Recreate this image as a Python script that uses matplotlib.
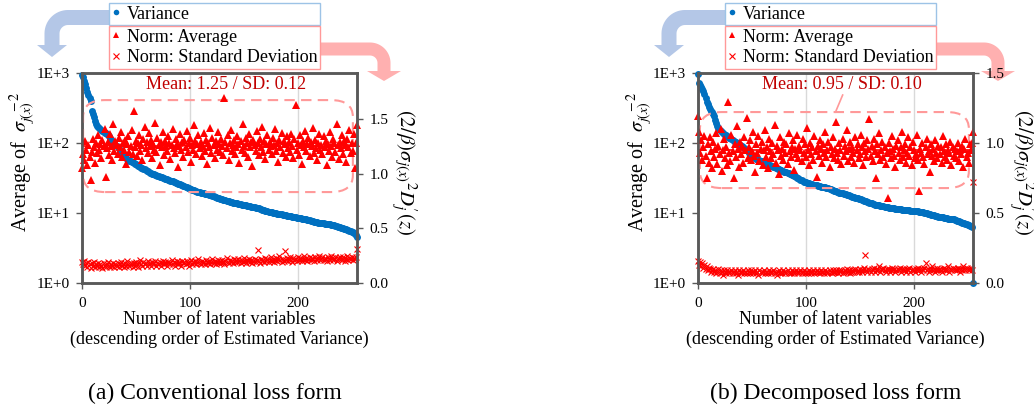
import matplotlib.pyplot as plt
from matplotlib.patches import FancyBboxPatch, Polygon
from matplotlib.lines import Line2D
from matplotlib.ticker import NullLocator, FormatStrFormatter
import numpy as np

plt.rcParams['font.family'] = ['Liberation Serif', 'DejaVu Serif']
plt.rcParams['mathtext.fontset'] = 'stix'

W, H = 1034, 415

# (a) conventional loss form: estimated variance (left, log axis) per latent variable
var_a = [950, 880, 780, 690, 610, 540, 480, 440, 400, 285, 260, 235, 205, 185, 176, 170,
         165, 160, 155, 150, 145, 141, 137, 133, 130, 124, 118, 112, 107, 102, 98, 94,
         90, 87, 84, 78, 74, 70, 67, 65, 63, 61, 59, 57, 56, 55, 54, 52.9,
         51.8, 50.7, 49.6, 48.6, 47.6, 46.6, 45.6, 44.6, 43.7, 42.8, 41.9, 41.0, 40.1, 39.3, 38.5, 37.7,
         37.0, 36.5, 36.0, 35.5, 35.0, 34.6, 34.1, 33.6, 33.2, 32.7, 32.3, 31.9, 31.4, 31.0, 30.6, 30.2,
         29.8, 29.4, 29.0, 28.6, 28.2, 27.8, 27.4, 27.1, 26.7, 26.3, 26.0, 25.6, 25.2, 24.8, 24.4, 24.0,
         23.6, 23.2, 22.8, 22.4, 22.0, 21.8, 21.5, 21.2, 21.0, 20.7, 20.5, 20.2, 20.0, 19.7, 19.5, 19.3,
         19.2, 19.0, 18.9, 18.7, 18.6, 18.4, 18.2, 18.0, 17.8, 17.5, 17.3, 17.0, 16.8, 16.6, 16.4, 16.2,
         16.0, 15.8, 15.6, 15.5, 15.3, 15.1, 15.0, 14.8, 14.7, 14.5, 14.4, 14.3, 14.1, 14.0, 13.9, 13.8,
         13.7, 13.6, 13.4, 13.3, 13.2, 13.1, 13.0, 12.9, 12.8, 12.7, 12.6, 12.5, 12.4, 12.3, 12.2, 12.1,
         12.0, 11.9, 11.8, 11.7, 11.6, 11.5, 11.3, 11.2, 11.1, 10.9, 10.8, 10.7, 10.6, 10.5, 10.4, 10.3,
         10.2, 10.1, 10.1, 10.0, 9.9, 9.8, 9.8, 9.7, 9.6, 9.6, 9.5, 9.4, 9.4, 9.3, 9.2, 9.2,
         9.1, 9.0, 9.0, 8.9, 8.8, 8.8, 8.7, 8.6, 8.6, 8.5, 8.4, 8.4, 8.3, 8.3, 8.2, 8.2,
         8.1, 8.0, 8.0, 7.9, 7.8, 7.7, 7.6, 7.5, 7.5, 7.4, 7.4, 7.3, 7.3, 7.2, 7.2, 7.1,
         7.1, 7.0, 7.0, 7.0, 6.9, 6.9, 6.9, 6.8, 6.8, 6.7, 6.7, 6.6, 6.5, 6.4, 6.4, 6.3,
         6.2, 6.2, 6.1, 6.0, 5.9, 5.9, 5.8, 5.7, 5.6, 5.5, 5.4, 5.3, 5.2, 5.0, 4.8, 4.5]

# (a) norm average (right axis)
norm_avg_a = [1.05, 1.18, 1.12, 1.30, 1.22, 1.08, 1.26, 1.15, 0.94, 1.20, 1.32, 1.24, 1.10, 1.28, 1.19, 1.35,
              1.22, 1.27, 1.14, 1.31, 1.25, 1.41, 0.97, 1.23, 1.29, 1.17, 1.36, 1.25, 1.12, 1.45, 1.21, 1.30,
              1.26, 1.18, 1.33, 1.24, 1.38, 1.15, 1.28, 1.22, 1.31, 1.09, 1.27, 1.34, 1.20, 1.25, 1.40, 1.18,
              1.57, 1.24, 1.30, 1.16, 1.28, 1.35, 1.21, 1.26, 1.12, 1.32, 1.43, 1.23, 1.29, 1.19, 1.37, 1.25,
              1.31, 1.14, 1.27, 1.22, 1.46, 1.20, 1.33, 1.26, 1.08, 1.29, 1.24, 1.38, 1.17, 1.30, 1.25, 1.21,
              1.34, 1.28, 1.13, 1.26, 1.41, 1.23, 1.19, 1.32, 1.27, 1.06, 1.25, 1.36, 1.22, 1.29, 1.15, 1.31,
              1.24, 1.39, 1.20, 1.28, 1.33, 1.11, 1.26, 1.22, 1.44, 1.30, 1.18, 1.27, 1.35, 1.23, 1.29, 1.16,
              1.25, 1.37, 1.21, 1.31, 1.09, 1.28, 1.24, 1.42, 1.19, 1.33, 1.26, 1.14, 1.30, 1.22, 1.38, 1.27,
              1.20, 1.32, 1.25, 1.17, 1.69, 1.29, 1.23, 1.35, 1.12, 1.28, 1.40, 1.21, 1.26, 1.31, 1.18, 1.24,
              1.34, 1.27, 1.10, 1.30, 1.22, 1.45, 1.25, 1.19, 1.33, 1.28, 1.15, 1.36, 1.24, 1.29, 1.07, 1.31,
              1.26, 1.21, 1.39, 1.28, 1.17, 1.32, 1.24, 1.43, 1.20, 1.30, 1.13, 1.27, 1.35, 1.22, 1.29, 1.25,
              1.18, 1.33, 1.26, 1.41, 1.21, 1.28, 1.11, 1.31, 1.24, 1.37, 1.19, 1.30, 1.27, 1.15, 1.34, 1.23,
              1.29, 1.20, 1.36, 1.25, 1.14, 1.32, 1.63, 1.22, 1.28, 1.17, 1.35, 1.26, 1.09, 1.30, 1.24, 1.39,
              1.21, 1.27, 1.33, 1.16, 1.29, 1.25, 1.42, 1.19, 1.31, 1.23, 1.12, 1.28, 1.36, 1.22, 1.26, 1.18,
              1.34, 1.24, 1.30, 1.08, 1.27, 1.21, 1.38, 1.25, 1.15, 1.32, 1.28, 1.20, 1.45, 1.26, 1.13, 1.29,
              1.23, 1.35, 1.18, 1.30, 1.26, 1.11, 1.32, 1.24, 1.40, 1.19, 1.28, 1.21, 1.36, 1.05, 1.28, 1.44]

# (a) norm standard deviation (right axis)
norm_sd_a = [0.19, 0.17, 0.20, 0.16, 0.18, 0.15, 0.19, 0.17, 0.14, 0.18, 0.16, 0.19, 0.15, 0.17, 0.16, 0.18,
             0.15, 0.17, 0.16, 0.14, 0.18, 0.16, 0.15, 0.17, 0.19, 0.16, 0.15, 0.17, 0.16, 0.18, 0.15, 0.17,
             0.16, 0.18, 0.15, 0.17, 0.19, 0.16, 0.17, 0.15, 0.18, 0.16, 0.20, 0.17, 0.16, 0.18, 0.17, 0.15,
             0.18, 0.16, 0.19, 0.17, 0.15, 0.18, 0.21, 0.17, 0.16, 0.19, 0.17, 0.18, 0.16, 0.20, 0.17, 0.18,
             0.16, 0.19, 0.17, 0.18, 0.20, 0.16, 0.18, 0.17, 0.19, 0.16, 0.18, 0.20, 0.17, 0.19, 0.18, 0.16,
             0.19, 0.17, 0.18, 0.21, 0.17, 0.19, 0.16, 0.18, 0.20, 0.17, 0.19, 0.18, 0.16, 0.20, 0.18, 0.19,
             0.17, 0.20, 0.18, 0.16, 0.19, 0.21, 0.17, 0.19, 0.18, 0.20, 0.17, 0.19, 0.22, 0.18, 0.17, 0.20,
             0.18, 0.19, 0.17, 0.21, 0.19, 0.18, 0.20, 0.17, 0.19, 0.22, 0.18, 0.20, 0.17, 0.19, 0.21, 0.18,
             0.20, 0.18, 0.21, 0.19, 0.17, 0.20, 0.23, 0.19, 0.18, 0.21, 0.19, 0.20, 0.18, 0.22, 0.19, 0.21,
             0.19, 0.22, 0.20, 0.18, 0.21, 0.19, 0.23, 0.20, 0.18, 0.21, 0.20, 0.22, 0.19, 0.21, 0.18, 0.20,
             0.22, 0.19, 0.21, 0.30, 0.20, 0.18, 0.22, 0.20, 0.21, 0.19, 0.23, 0.20, 0.22, 0.19, 0.21, 0.24,
             0.20, 0.22, 0.19, 0.21, 0.23, 0.20, 0.22, 0.25, 0.21, 0.19, 0.22, 0.20, 0.29, 0.21, 0.23, 0.20,
             0.22, 0.24, 0.21, 0.19, 0.23, 0.21, 0.22, 0.20, 0.24, 0.21, 0.23, 0.22, 0.20, 0.22, 0.25, 0.21,
             0.23, 0.20, 0.22, 0.24, 0.21, 0.23, 0.22, 0.20, 0.24, 0.22, 0.21, 0.23, 0.25, 0.21, 0.22, 0.24,
             0.21, 0.23, 0.22, 0.20, 0.24, 0.22, 0.21, 0.25, 0.23, 0.21, 0.22, 0.24, 0.20, 0.23, 0.22, 0.24,
             0.22, 0.21, 0.24, 0.23, 0.20, 0.22, 0.25, 0.21, 0.23, 0.22, 0.24, 0.21, 0.23, 0.22, 0.24, 0.31]

# (b) decomposed loss form
var_b = [980, 720, 680, 640, 600, 560, 500, 440, 390, 360, 330, 310, 290, 280, 260, 240,
         215, 195, 175, 165, 155, 150, 145, 140, 136, 132, 129, 126, 122, 119, 116, 113,
         110, 107, 105, 102, 100, 98, 96, 94, 92, 90, 88, 86, 82, 79, 76, 73,
         70, 68, 66, 64, 62.5, 61, 60, 59, 58, 57, 56, 55, 54, 53, 52, 51,
         50.0, 49.3, 48.6, 47.9, 47.2, 46.5, 45.8, 45.1, 44.4, 43.7, 43.0, 42.3, 41.6, 41.0, 40.3, 39.7,
         39.1, 38.5, 37.9, 37.3, 36.7, 36.1, 35.6, 35.0, 34.5, 34.0, 33.3, 32.6, 31.9, 31.2, 30.5, 29.8,
         29.2, 28.6, 28.0, 27.7, 27.4, 27.1, 26.8, 26.6, 26.3, 26.0, 25.8, 25.5, 25.3, 25.0, 24.8, 24.6,
         24.3, 24.1, 23.9, 23.7, 23.5, 23.4, 23.2, 23.1, 23.0, 22.6, 22.2, 21.8, 21.5, 21.2, 20.9, 20.6,
         20.3, 20.0, 19.8, 19.6, 19.4, 19.2, 19.0, 18.8, 18.6, 18.4, 18.2, 18.0, 17.8, 17.6, 17.4, 17.2,
         17.0, 16.8, 16.6, 16.4, 16.2, 16.0, 15.8, 15.6, 15.4, 15.2, 15.0, 14.8, 14.6, 14.4, 14.2, 14.0,
         13.8, 13.7, 13.5, 13.4, 13.2, 13.1, 13.0, 12.9, 12.8, 12.7, 12.6, 12.5, 12.4, 12.3, 12.2, 12.1,
         12.0, 11.9, 11.8, 11.8, 11.7, 11.6, 11.6, 11.5, 11.5, 11.4, 11.4, 11.3, 11.3, 11.2, 11.2, 11.1,
         11.1, 11.0, 11.0, 10.9, 10.9, 10.8, 10.8, 10.8, 10.7, 10.7, 10.6, 10.6, 10.6, 10.5, 10.5, 10.4,
         10.3, 10.2, 10.1, 10.0, 9.9, 9.8, 9.7, 9.6, 9.5, 9.4, 9.4, 9.3, 9.2, 9.1, 9.0, 8.9,
         8.9, 8.8, 8.7, 8.7, 8.6, 8.5, 8.5, 8.4, 8.3, 8.3, 8.2, 8.2, 8.1, 8.1, 8.0, 7.9,
         7.8, 7.7, 7.6, 7.5, 7.4, 7.3, 7.2, 7.1, 7.0, 6.9, 6.8, 6.7, 6.6, 6.5, 6.3, 1.0]

norm_avg_b = [1.19, 1.08, 0.93, 1.02, 0.88, 0.97, 1.05, 0.91, 0.75, 0.99, 0.86, 1.04, 0.94, 0.82, 1.01, 0.90,
              0.96, 1.07, 0.85, 0.98, 0.92, 1.10, 0.80, 0.95, 1.03, 0.89, 0.97, 0.84, 1.29, 0.93, 0.87, 1.06,
              0.94, 0.75, 0.99, 0.90, 1.12, 0.96, 0.83, 1.01, 0.92, 0.98, 0.86, 1.04, 0.95, 1.18, 0.89, 0.97,
              1.02, 0.88, 0.94, 1.08, 0.91, 0.79, 0.99, 0.93, 1.05, 0.87, 0.96, 1.01, 0.84, 0.95, 1.09, 0.90,
              0.97, 0.82, 1.03, 0.94, 0.89, 1.00, 0.92, 1.13, 0.86, 0.98, 0.95, 0.78, 1.04, 0.91, 0.96, 0.88,
              1.01, 0.93, 0.99, 0.85, 1.07, 0.94, 0.90, 0.97, 1.02, 0.81, 0.96, 0.92, 1.06, 0.89, 0.98, 0.95,
              0.87, 1.03, 0.93, 0.99, 0.90, 1.11, 0.95, 0.84, 1.00, 0.92, 0.97, 0.88, 1.05, 0.94, 0.76, 0.98,
              0.91, 1.02, 0.96, 0.86, 0.99, 0.93, 1.08, 0.90, 0.95, 1.01, 0.83, 0.97, 0.92, 1.04, 0.89, 0.96,
              1.15, 0.93, 0.88, 1.00, 0.95, 0.85, 1.03, 0.91, 0.98, 0.94, 1.09, 0.87, 0.96, 1.01, 0.90, 0.97,
              0.93, 0.86, 1.04, 0.95, 0.99, 0.89, 0.92, 1.06, 0.97, 0.84, 1.00, 0.94, 0.90, 1.02, 0.96, 1.17,
              0.91, 0.98, 0.87, 1.03, 0.94, 0.75, 0.99, 0.92, 1.07, 0.88, 0.95, 1.01, 0.90, 0.97, 0.85, 0.93,
              0.61, 1.00, 0.94, 0.89, 1.05, 0.96, 0.91, 0.83, 0.98, 1.02, 0.93, 0.88, 0.97, 1.08, 0.90, 0.95,
              0.99, 0.86, 0.93, 1.04, 0.91, 0.97, 0.84, 1.01, 0.95, 0.89, 0.92, 1.06, 0.88, 0.66, 0.96, 0.93,
              1.00, 0.90, 0.85, 0.97, 1.03, 0.92, 0.94, 0.79, 0.99, 0.91, 0.96, 0.87, 1.02, 0.93, 0.89, 0.98,
              0.92, 0.97, 0.86, 1.05, 0.94, 0.90, 0.99, 0.88, 0.95, 0.93, 1.01, 0.84, 0.97, 0.91, 0.96, 0.89,
              0.94, 1.00, 0.87, 0.95, 0.92, 0.98, 0.83, 0.96, 1.03, 0.90, 0.93, 0.86, 0.99, 0.95, 1.00, 1.08]

norm_sd_b = [0.16, 0.13, 0.15, 0.12, 0.14, 0.11, 0.13, 0.10, 0.12, 0.09, 0.11, 0.10, 0.08, 0.09, 0.10, 0.08,
             0.09, 0.07, 0.08, 0.10, 0.07, 0.09, 0.08, 0.06, 0.09, 0.08, 0.07, 0.09, 0.08, 0.07, 0.08, 0.09,
             0.07, 0.08, 0.09, 0.07, 0.08, 0.06, 0.09, 0.08, 0.07, 0.08, 0.09, 0.07, 0.08, 0.07, 0.09, 0.08,
             0.07, 0.09, 0.08, 0.07, 0.08, 0.09, 0.07, 0.08, 0.06, 0.09, 0.08, 0.07, 0.08, 0.09, 0.07, 0.08,
             0.08, 0.07, 0.09, 0.08, 0.07, 0.08, 0.09, 0.07, 0.08, 0.06, 0.08, 0.09, 0.07, 0.08, 0.07, 0.09,
             0.08, 0.07, 0.08, 0.09, 0.07, 0.08, 0.07, 0.09, 0.08, 0.07, 0.08, 0.09, 0.08, 0.07, 0.08, 0.09,
             0.07, 0.08, 0.09, 0.07, 0.08, 0.08, 0.07, 0.09, 0.08, 0.07, 0.08, 0.09, 0.07, 0.08, 0.09, 0.08,
             0.08, 0.07, 0.09, 0.08, 0.08, 0.07, 0.09, 0.08, 0.07, 0.08, 0.09, 0.08, 0.07, 0.09, 0.08, 0.08,
             0.09, 0.08, 0.07, 0.09, 0.08, 0.09, 0.07, 0.08, 0.09, 0.08, 0.10, 0.08, 0.09, 0.07, 0.08, 0.09,
             0.08, 0.09, 0.10, 0.08, 0.09, 0.08, 0.10, 0.09, 0.08, 0.09, 0.11, 0.20, 0.09, 0.08, 0.10, 0.09,
             0.08, 0.10, 0.09, 0.11, 0.08, 0.09, 0.10, 0.09, 0.12, 0.08, 0.10, 0.09, 0.11, 0.09, 0.08, 0.10,
             0.09, 0.10, 0.08, 0.09, 0.11, 0.09, 0.10, 0.08, 0.09, 0.10, 0.09, 0.11, 0.08, 0.10, 0.09, 0.10,
             0.09, 0.08, 0.10, 0.09, 0.11, 0.08, 0.09, 0.10, 0.09, 0.08, 0.10, 0.09, 0.11, 0.09, 0.10, 0.08,
             0.10, 0.09, 0.11, 0.14, 0.09, 0.10, 0.08, 0.09, 0.10, 0.12, 0.09, 0.10, 0.08, 0.09, 0.11, 0.09,
             0.10, 0.09, 0.08, 0.10, 0.11, 0.09, 0.10, 0.09, 0.12, 0.08, 0.10, 0.09, 0.11, 0.10, 0.09, 0.10,
             0.09, 0.11, 0.10, 0.08, 0.10, 0.09, 0.12, 0.10, 0.09, 0.11, 0.10, 0.09, 0.10, 0.11, 0.09, 0.72]

# summary stats written in the chart
mean_a, sd_a = 1.25, 0.12
mean_b, sd_b = 0.95, 0.10

captions = ['(a) Conventional loss form', '(b) Decomposed loss form']
log_ticks = [1, 10, 100, 1000]
log_labels = ['1E+0', '1E+1', '1E+2', '1E+3']
norm_ticks = [0.0, 0.5, 1.0, 1.5]

BLUE = '#0070C0'
RED = '#FF0000'
FRAME = '#595959'
PINK = '#FF9999'


# pixel position (top-left origin) -> figure fraction
def fig_xy(x, y):
    return x / W, 1 - y / H


def style_axis(a):
    for s in a.spines.values():
        s.set_color(FRAME)
        s.set_linewidth(1.8)


# one of the two panels: log variance on the left, norm stats on a twin axis
def draw_panel(fig, left, variance, norm_avg, norm_sd, mean, sd, norm_top, box, leader):
    x0, y0 = fig_xy(left, 283)
    ax = fig.add_axes([x0, y0, 275 / W, 210 / H])
    idx = np.arange(len(variance))

    ax.set_yscale('log')
    ax.set_ylim(1, 1000)
    ax.set_xlim(0, 255)
    ax.set_yticks(log_ticks)
    ax.set_yticklabels(log_labels)
    ax.yaxis.set_minor_locator(NullLocator())
    ax.set_xticks([0, 100, 200])
    ax.grid(axis='x', color='#D9D9D9', linewidth=1)
    ax.set_axisbelow(True)
    ax.tick_params(direction='out', length=4, width=1, color=FRAME, labelsize=11, pad=5)
    ax.tick_params(axis='x', pad=6)
    ax.plot(idx, variance, 'o', color=BLUE, markersize=5, markeredgewidth=0, clip_on=False)
    ax.set_xlabel("Number of latent variables\n(descending order of Estimated Variance)",
                  fontsize=13, labelpad=1, linespacing=1.15)

    ax2 = ax.twinx()
    ax2.set_ylim(0, norm_top)
    ax2.set_yticks(norm_ticks)
    ax2.yaxis.set_major_formatter(FormatStrFormatter('%.1f'))
    ax2.tick_params(direction='out', length=4, width=1, color=FRAME, labelsize=11, pad=5)
    ax2.plot(idx, norm_avg, '^', color=RED, markersize=5.5, markeredgewidth=0, clip_on=False)
    ax2.plot(idx, norm_sd, 'x', color=RED, markersize=5, markeredgewidth=0.8, clip_on=False)
    ax2.axhline(mean, color=RED, linestyle=(0, (5, 3)), linewidth=1.2)

    style_axis(ax)
    style_axis(ax2)

    # dashed rounded box around the norm averages
    bx0, by0, bx1, by1 = box
    ax2.add_patch(FancyBboxPatch((bx0, by0), bx1 - bx0, by1 - by0,
                                 boxstyle='round,pad=0,rounding_size=0.08',
                                 transform=ax2.transAxes, fill=False, edgecolor=PINK,
                                 linestyle=(0, (5, 3)), linewidth=1.5, clip_on=False))
    ax2.text(0.525, 0.943, "Mean: %.2f / SD: %.2f" % (mean, sd), transform=ax2.transAxes,
             ha='center', va='center', color='#C00000', fontsize=13)
    if leader:
        ax2.plot([0.526, 0.50], [0.895, 0.814], color=PINK, linewidth=1.2,
                 transform=ax2.transAxes, clip_on=False)
    return ax, ax2


def draw_legend(fig, left):
    x0 = left / W
    w = 211 / W
    opts = dict(loc='upper left', mode='expand', fontsize=13, frameon=True, fancybox=False,
                framealpha=1, borderpad=0.15, handlelength=0.5, handletextpad=0.35,
                labelspacing=0.2, borderaxespad=0)
    h1 = [Line2D([], [], marker='o', color=BLUE, ls='none', ms=4, mew=0)]
    leg1 = fig.legend(h1, ['Variance'], bbox_to_anchor=(x0, 1 - 3 / H, w, 0), **opts)
    leg1.get_frame().set_edgecolor('#9DC3E6')
    leg1.get_frame().set_linewidth(1)
    h2 = [Line2D([], [], marker='^', color=RED, ls='none', ms=4.5, mew=0),
          Line2D([], [], marker='x', color=RED, ls='none', ms=4, mew=0.8)]
    leg2 = fig.legend(h2, ['Norm: Average', 'Norm: Standard Deviation'],
                      bbox_to_anchor=(x0, 1 - 26 / H, w, 0), **opts)
    leg2.get_frame().set_edgecolor(PINK)
    leg2.get_frame().set_linewidth(1)


# bent block arrow: horizontal from the legend, quarter turn, then down to a triangular head
def draw_arrow(fig, start, corner_x, head_y, tip_y, color, thick, head_w, radius):
    sx, sy = start
    d = np.sign(corner_x - sx)
    cx = corner_x - d * radius
    t = np.linspace(0, np.pi / 2, 16)
    xs = [sx] + list(cx + d * radius * np.sin(t)) + [corner_x]
    ys = [sy] + list(sy + radius - radius * np.cos(t)) + [head_y]
    fx = [x / W for x in xs]
    fy = [1 - y / H for y in ys]
    # drawn below the axes so tick labels stay on top
    fig.add_artist(Line2D(fx, fy, transform=fig.transFigure, color=color,
                          linewidth=thick * 72 / 100, solid_capstyle='butt', zorder=-1))
    head = [fig_xy(corner_x - head_w / 2, head_y), fig_xy(corner_x + head_w / 2, head_y),
            fig_xy(corner_x, tip_y)]
    fig.add_artist(Polygon(head, closed=True, transform=fig.transFigure, color=color,
                           linewidth=0, zorder=-1))


fig = plt.figure(figsize=(W / 100, H / 100), dpi=100)

draw_panel(fig, 82, var_a, norm_avg_a, norm_sd_a, mean_a, sd_a, 1.92,
           (0.004, 0.433, 0.985, 0.871), False)
draw_panel(fig, 698, var_b, norm_avg_b, norm_sd_b, mean_b, sd_b, 1.5,
           (0.007, 0.452, 0.985, 0.814), True)

left_label = r"Average of  $\sigma_{j(x)}^{\ \ -2}$"
right_label = r"$(2/\beta)\sigma_{j(x)}{}^{2}D_{j}^{\prime}(z)$"
for lx, rx in [(23, 403), (640, 1021)]:
    fig.text(*fig_xy(lx, 162), left_label, rotation=90, ha='center', va='center', fontsize=14.5)
    fig.text(*fig_xy(rx, 172), right_label, rotation=270, ha='center', va='center', fontsize=15)

for left in [109, 725]:
    draw_legend(fig, left)

draw_arrow(fig, (110, 17.5), 52, 45, 57, '#B4C7E7', 15, 30, 16)
draw_arrow(fig, (318, 49), 384, 71, 81, '#FFB0B0', 13, 34, 14)
draw_arrow(fig, (726, 17.5), 669, 45, 57, '#B4C7E7', 15, 30, 16)
draw_arrow(fig, (934, 49), 998, 71, 81, '#FFB0B0', 13, 34, 14)

fig.text(*fig_xy(215, 393), captions[0], ha='center', va='center', fontsize=17)
fig.text(*fig_xy(836, 393), captions[1], ha='center', va='center', fontsize=17)

plt.savefig('out.png', dpi=100)
